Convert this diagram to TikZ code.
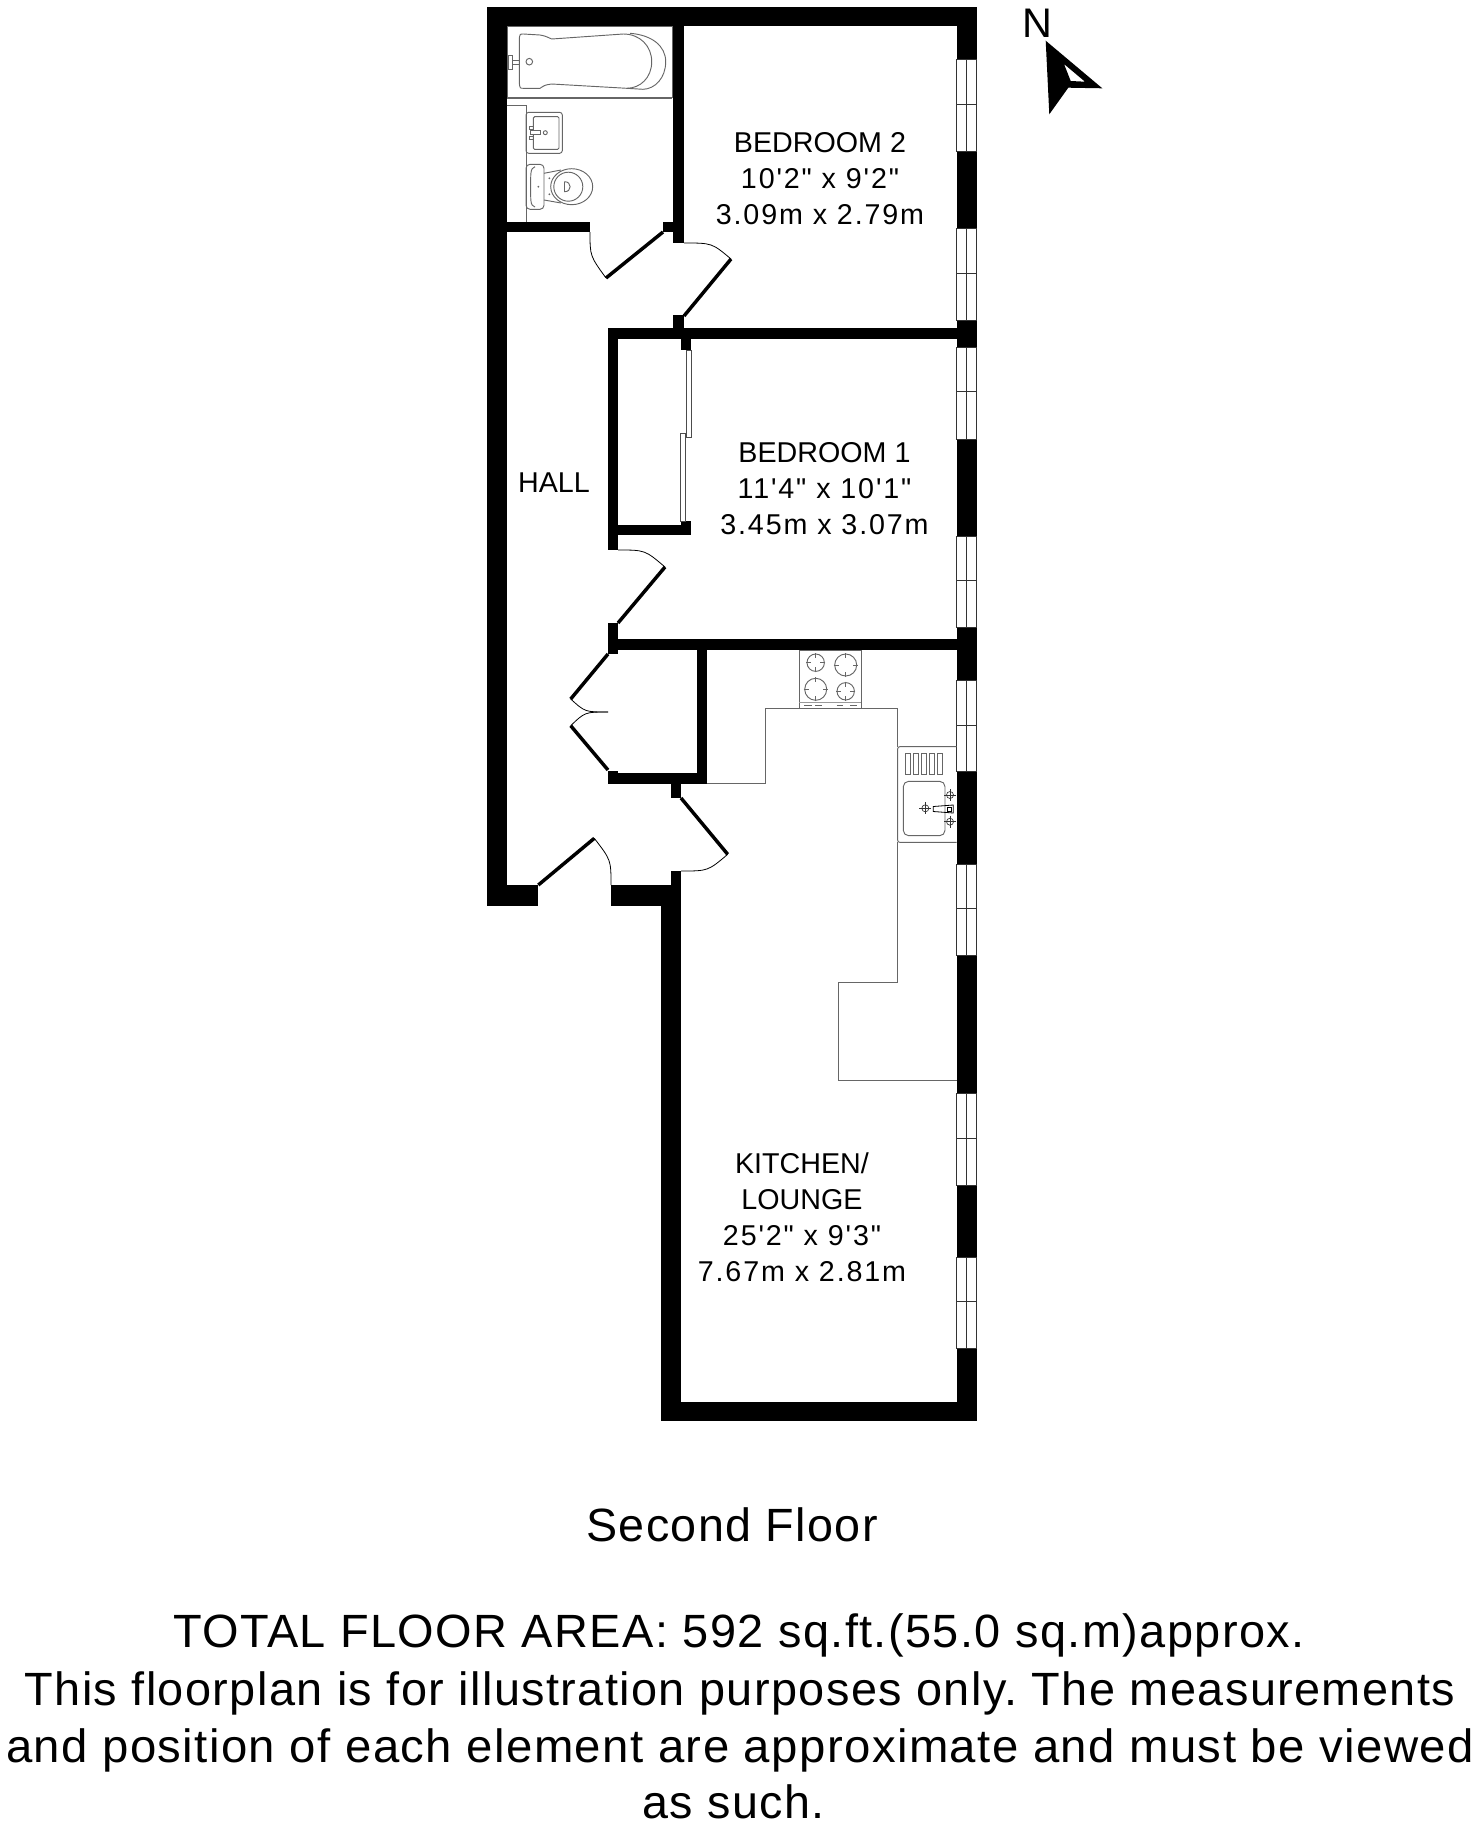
\documentclass[tikz,border=0pt]{standalone}
\usepackage{fontspec}
\setmainfont{Liberation Sans}
\newfontfamily\dimfont[LetterSpace=6.5]{Liberation Sans}
\newfontfamily\footfont[LetterSpace=3]{Liberation Sans}
\usetikzlibrary{positioning}
\tikzstyle{wall}=[fill=black]
\tikzstyle{leaf}=[draw=black,line width=2.6pt]
\tikzstyle{swing}=[draw=black,line width=0.6pt]
\tikzstyle{fitting}=[draw=black!60,line width=0.7pt]
\tikzstyle{pane}=[fill=white,draw=black!80,line width=0.5pt]
\tikzstyle{roomname}=[font=\fontsize{21.5}{27}\selectfont,align=center,inner sep=0pt]
\tikzstyle{footline}=[font=\fontsize{35}{43}\selectfont\footfont\frenchspacing,anchor=base,inner sep=0pt,transform shape]
\begin{document}
\begin{tikzpicture}[x=0.75pt,y=-0.75pt]

  \useasboundingbox (0,0) rectangle (1472,1824);

  % walls
  \foreach \xa/\ya/\xb/\yb in {486.5/7/506.7/905.7, 486.5/7/976.5/26, 956.7/7/976.5/1421, 660.7/1401.5/976.5/1421,
      660.7/885/681/1421, 486.5/885/537.7/905.7, 611/885/681/905.7, 671/871/681/885,
      671/784/681/798, 608/773/706.7/784, 696.7/650/706.7/784, 608/770.7/618/784,
      608/639/976.5/650, 608/623/618/654, 608/328/618/550, 608/525/691/535,
      680.7/521/691/535, 680.7/338/691/350, 608/328/976.5/339, 673/315/684/339,
      673/26/684/243, 506.7/221.7/590/231.7, 663/221.7/684/231.7}
         \fill[wall] (\xa,\ya) rectangle (\xb,\yb);

  % windows
  \foreach \ya/\ym/\yb in {59/104/151, 228/273/320, 347/391.7/439, 536/580/627,
      680/725/771.7, 864/908/955.8, 1093.5/1138/1185, 1257/1301.7/1348.5}
  {
     \path[pane] (956.7,\ya) rectangle (976.5,\yb);
     \draw[pane] (966.7,\ya) -- (966.7,\yb);
     \draw[pane] (956.7,\ym) -- (976.5,\ym);
  }

  % doors
  \draw[leaf] (663,232) -- (606,278);
  \draw[swing] (590,232) .. controls (590,256) .. (606,278);
  \draw[leaf] (684,316) -- (731,259);
  \draw[swing] (684,243) .. controls (712,243) .. (731,259);
  \draw[leaf] (618,623) -- (665,567);
  \draw[swing] (618,550) .. controls (645,550) .. (665,567);
  \draw[leaf] (608,654) -- (570.7,699);
  \draw[swing] (570.7,699) .. controls (585,712) .. (608,712);
  \draw[leaf] (608,770) -- (570.7,725.7);
  \draw[swing] (570.7,725.7) .. controls (585,712) .. (608,712);
  \draw[leaf] (538.3,885) -- (594.3,838.3);
  \draw[swing] (594.3,838.3) .. controls (611,860) .. (611,885);
  \draw[leaf] (681,798) -- (727.7,854.3);
  \draw[swing] (727.7,854.3) .. controls (708,871) .. (681,871);

  % sliding wardrobe doors
  \draw[fill=white,draw=black!70,line width=0.5pt] (686.7,350) rectangle (691,437);
  \draw[fill=white,draw=black!70,line width=0.5pt] (680.7,433) rectangle (685,521);

  % bath
  \draw[fitting] (507.3,26.7) rectangle (672,97);
  \draw[fitting] (506.7,98.5) -- (672,98.5);
  \draw[fitting] (523.3,34) -- (540,35) .. controls (545,36) .. (551.7,39) -- (623.3,34)
     .. controls (640,34) and (651.7,46) .. (651.7,61.7)
     .. controls (651.7,78) and (640,88.3) .. (626.7,88.3)
     -- (551.7,84) .. controls (545,85) .. (540,88.3) -- (523.3,88.3)
     .. controls (520,88.3) .. (519.3,83.3) -- (519.3,38.3) .. controls (520,34) .. (523.3,34);
  \draw[fitting] (630,33.3) .. controls (652,35) and (665.7,46) .. (665.7,61.7)
     .. controls (665.7,78) and (655,89) .. (643,89.3) -- (626.7,88.3);
  \draw[fitting] (529.3,61.7) circle[radius=3.3];
  \draw[fitting] (508.3,55) rectangle (512.7,69.3);
  \draw[fitting] (512.7,60) rectangle (519.3,64);

  % boxing, basin, toilet
  \draw[fitting] (506.7,105) -- (526,105) -- (526,221.7);
  \draw[fitting,rounded corners=2pt] (526,112.3) rectangle (562.3,153.3);
  \draw[fitting,rounded corners=1pt] (533.3,116.7) rectangle (559,149.3);
  \draw[fitting] (529.3,126) rectangle (533.3,129.3);
  \draw[fitting] (529.3,136) rectangle (533.3,139.3);
  \draw[fitting,fill=white] (530,130) rectangle (540,134.7);
  \draw[fitting] (545.3,132.7) circle[radius=2];
  \draw[fitting,rounded corners=3pt] (526,164.3) rectangle (544,209.3);
  \draw[fitting] (535,166.7) .. controls (530,168) and (530.7,175) .. (530.7,187)
     .. controls (530.7,199) and (530,206) .. (535,207);
  \draw[fitting] (544,173.3) -- (561,170);
  \draw[fitting] (544,200) -- (561,203);
  \draw[fitting] (571.7,186.7) ellipse[x radius=21,y radius=18];
  \draw[fitting] (568.3,186.7) ellipse[x radius=14.5,y radius=14.5];
  \draw[fitting] (564.5,181.7) -- (564.5,191.7) .. controls (572,192) and (572,181.5) .. (564.5,181.7);
  \foreach \x/\y in {549.3/178.3, 549.3/194.3, 538.3/186.7}
     \fill[black!60] (\x,\y) circle[radius=1];

  % worktop
  \draw[fitting] (706.7,783.3) -- (765.7,783.3) -- (765.7,708.3) -- (897.7,708.3) -- (897.7,746.7);
  \draw[fitting] (897.7,842.3) -- (897.7,982.6) -- (838.3,982.6) -- (838.3,1080.7) -- (956.7,1080.7);

  % hob
  \draw[fitting] (799.3,650) rectangle (861.3,708.3);
  \draw[black!40,line width=1pt] (799.3,702.7) -- (861.3,702.7);
  \foreach \xa/\xb in {804.3/811.7, 815/821.7, 836.7/843.3, 850/856.7}
     \draw[fitting,line width=0.5pt] (\xa,705.3) -- (\xb,705.3);
  \foreach \x/\y/\r in {815.7/662.7/8.7, 845.7/665/11, 815.7/689.3/11, 845.7/691.3/8.7}
  {
     \draw[fitting] (\x,\y) circle[radius=\r];
     \draw[fitting,line width=0.5pt] (\x,\y-\r-1) -- (\x,\y-\r+4);
     \draw[fitting,line width=0.5pt] (\x,\y+\r+1) -- (\x,\y+\r-4);
     \draw[fitting,line width=0.5pt] (\x-\r-1,\y) -- (\x-\r+4,\y);
     \draw[fitting,line width=0.5pt] (\x+\r+1,\y) -- (\x+\r-4,\y);
  }

  % sink
  \draw[fitting,rounded corners=1.5pt] (956.7,746.7) -- (897.7,746.7) -- (897.7,842.3) -- (956.7,842.3);
  \foreach \xa/\xb in {905/910, 913.3/918.3, 921.3/926.7, 929.3/934.3, 937.3/942.7}
     \draw[fitting] (\xa,753.3) rectangle (\xb,774);
  \draw[fitting,rounded corners=4pt] (903.3,781.3) rectangle (945,835.7);
  \foreach \x/\y in {950/795, 950/821.7, 925.3/808.3}
  {
     \draw[black!80,line width=0.5pt] (\x,\y) circle[radius=3.5];
     \draw[black!80,line width=0.5pt] (\x-6,\y) -- (\x+6,\y);
     \draw[black!80,line width=0.5pt] (\x,\y-6) -- (\x,\y+6);
  }
  \draw[black,line width=0.6pt] (933.3,806.5) -- (953.3,805) -- (953.3,813) -- (933.3,811.5) -- cycle;
  \draw[black,line width=0.5pt] (947.5,807) rectangle (951.5,811);

  % compass
  \fill[black,even odd rule] (1045.7,40.7) -- (1102.3,88.3) -- (1068.3,87.7) -- (1049.3,114.3) -- cycle
     (1064,64) -- (1085,81.7) -- (1070.7,81) -- cycle;
  \node[font=\fontsize{31}{31}\selectfont,inner sep=0pt] (north) at (1037,23) {N};

  % room labels
  \node[roomname] (bedtwo) at (820,179) {BEDROOM 2\\{\dimfont 10'2" x 9'2"}\\{\dimfont 3.09m x 2.79m}};
  \node[roomname] (bedone) at (824.5,489) {BEDROOM 1\\{\dimfont 11'4" x 10'1"}\\{\dimfont 3.45m x 3.07m}};
  \node[roomname] (hall) at (554,483) {HALL};
  \node[roomname] (kitchen) at (802,1217.5) {KITCHEN/\\LOUNGE\\{\dimfont 25'2" x 9'3"}\\{\dimfont 7.67m x 2.81m}};

  % footer
  \node[footline] (floorname) at (732,1541) {Second Floor};
  \node[footline,xscale=1.005] (totalarea) at (739,1647.7) {TOTAL FLOOR AREA: 592 sq.ft.(55.0 sq.m)approx.};
  \node[footline,xscale=1.004] (noteone) at (740,1705) {This floorplan is for illustration purposes only. The measurements};
  \node[footline,xscale=1.014] (notetwo) at (740,1762.7) {and position of each element are approximate and must be viewed};
  \node[footline] (notethree) at (733.5,1818.5) {as such.};

\end{tikzpicture}
\end{document}
